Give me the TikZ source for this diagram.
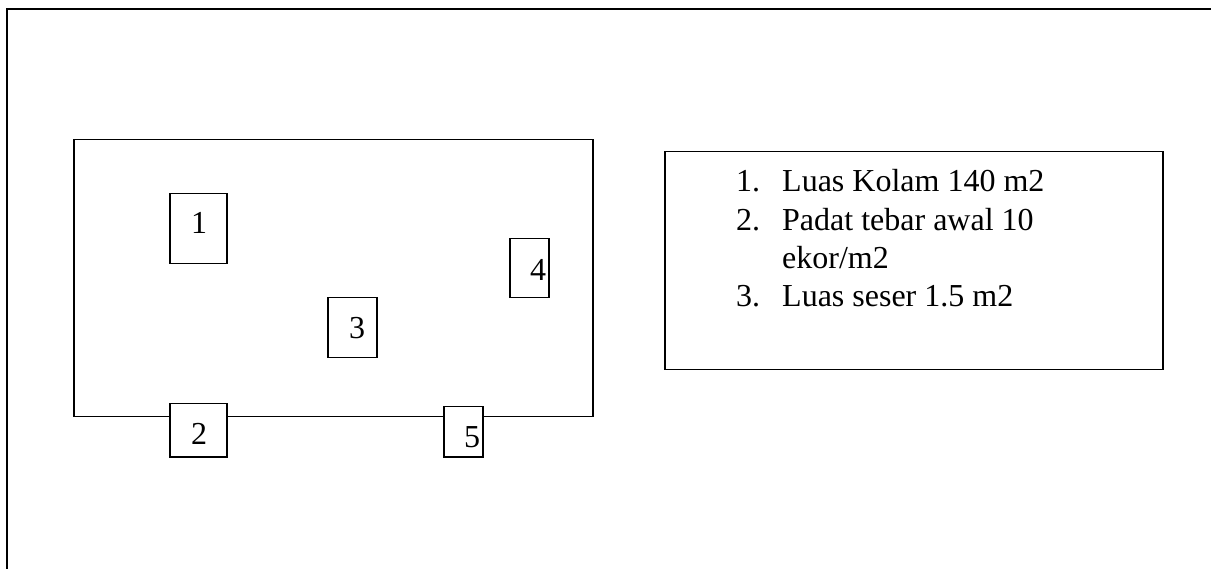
\documentclass[tikz,border=0pt]{standalone}
\usepackage{fontspec}
\setmainfont{Liberation Serif}
\usetikzlibrary{positioning}

\tikzset{
    every node/.style={font=\fontsize{32}{38}\selectfont},
    plot/.style={draw, line width=1.5pt, fill=white, inner sep=0pt, anchor=north west},
    num/.style={anchor=base, inner sep=0pt},
    item/.style={anchor=base west, inner sep=0pt}
}

\begin{document}
\begin{tikzpicture}[x=1pt, y=-1pt]
    \useasboundingbox (0,0) rectangle (1211,569);

    % frame
    \draw[line width=2.3pt] (7,569) -- (7,9) -- (1211,9);

    % kolam
    \node[plot, minimum width=519pt, minimum height=277pt] (kolam) at (73,139) {};

    \node[plot, minimum width=57pt, minimum height=70pt] (p1) at (169,193) {};
    \node[plot, minimum width=57pt, minimum height=53pt] (p2) at (169,403) {};
    \node[plot, minimum width=49pt, minimum height=60pt] (p3) at (327,297) {};
    \node[plot, minimum width=39pt, minimum height=59pt] (p4) at (509,238) {};
    \node[plot, minimum width=39pt, minimum height=50pt] (p5) at (443,406) {};

    \node[num] (l1) at (199,234) {1};
    \node[num] (l2) at (199,445) {2};
    \node[num] (l3) at (357,339) {3};
    \node[num] (l4) at (538,281) {4};
    \node[num] (l5) at (472,447) {5};

    % keterangan
    \node[plot, minimum width=498pt, minimum height=218pt] (ket) at (664,151) {};

    \node[item] (n1) at (736,192) {1.};
    \node[item] (t1) at (782,192) {Luas Kolam 140 m2};
    \node[item] (n2) at (736,231) {2.};
    \node[item] (t2) at (782,231) {Padat tebar awal 10};
    \node[item] (t2b) at (782,269) {ekor/m2};
    \node[item] (n3) at (736,307) {3.};
    \node[item] (t3) at (782,307) {Luas seser 1.5 m2};
\end{tikzpicture}
\end{document}
